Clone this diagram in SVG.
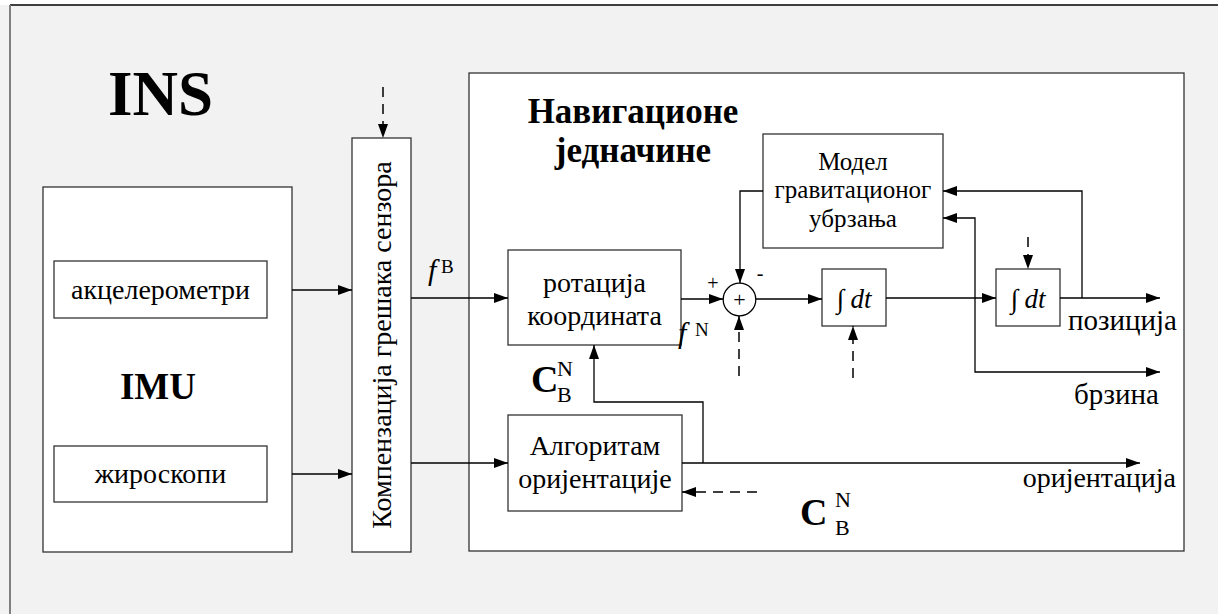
<svg xmlns="http://www.w3.org/2000/svg" width="1218" height="614" viewBox="0 0 1218 614">
<defs>
<style>
.t{font-family:"Liberation Serif","Times New Roman",serif;fill:#000}
.b{font-weight:bold}
.i{font-style:italic}
.box{fill:#fff;stroke:#333;stroke-width:1.3}
.ln{fill:none;stroke:#000;stroke-width:1.3}
.ds{fill:none;stroke:#000;stroke-width:1.5;stroke-dasharray:10 7}
</style>
<marker id="ar" viewBox="0 0 14 10" refX="14" refY="5" markerWidth="14" markerHeight="10" markerUnits="userSpaceOnUse" orient="auto">
<path d="M0,0 L14,5 L0,10 Z" fill="#000"/>
</marker>
</defs>
<rect x="0" y="0" width="1218" height="614" fill="#f2f2f2"/>
<rect x="0" y="0" width="1218" height="5" fill="#fff"/>
<line x1="10" y1="5" x2="1218" y2="5" stroke="#000" stroke-width="1.5"/>
<line x1="10" y1="5" x2="10" y2="614" stroke="#808080" stroke-width="2"/>
<text class="t b" x="108" y="115" font-size="63">INS</text>

<g id="imu">
<rect class="box" x="43" y="187" width="249" height="365"/>
<text class="t b" x="158" y="399" font-size="37" text-anchor="middle">IMU</text>
</g>
<g id="akcel">
<rect class="box" x="54" y="261" width="213" height="57"/>
<text class="t" x="160.5" y="299" font-size="28" text-anchor="middle">акцелерометри</text>
</g>
<g id="ziro">
<rect class="box" x="54" y="446" width="213" height="56"/>
<text class="t" x="160.5" y="483" font-size="28" text-anchor="middle">жироскопи</text>
</g>
<g id="komp">
<rect class="box" x="352" y="138" width="59" height="414"/>
<text class="t" transform="translate(391,345) rotate(-90)" font-size="28" text-anchor="middle">Компензација грешака сензора</text>
</g>
<g id="nav">
<rect class="box" x="469" y="73" width="715" height="478"/>
<text class="t b" x="633" y="123" font-size="35" text-anchor="middle">Навигационе</text>
<text class="t b" x="633" y="162" font-size="35" text-anchor="middle">једначине</text>
</g>
<g id="rot">
<rect class="box" x="508" y="250" width="173" height="95"/>
<text class="t" x="594.5" y="292" font-size="28" text-anchor="middle">ротација</text>
<text class="t" x="594.5" y="325" font-size="28" text-anchor="middle">координата</text>
</g>
<g id="alg">
<rect class="box" x="508" y="415" width="174" height="96"/>
<text class="t" x="595" y="455" font-size="28" text-anchor="middle">Алгоритам</text>
<text class="t" x="595" y="488" font-size="28" text-anchor="middle">оријентације</text>
</g>
<g id="model">
<rect class="box" x="763" y="134" width="180" height="114"/>
<text class="t" x="853" y="170" font-size="25" text-anchor="middle">Модел</text>
<text class="t" x="853" y="198" font-size="25" text-anchor="middle">гравитационог</text>
<text class="t" x="853" y="227" font-size="25" text-anchor="middle">убрзања</text>
</g>
<g id="sum">
<circle cx="739.5" cy="299.5" r="16.3" fill="#fff" stroke="#000" stroke-width="1.3"/>
<text class="t" x="739.5" y="307" font-size="22" text-anchor="middle">+</text>
<text class="t" x="713" y="290" font-size="20" text-anchor="middle">+</text>
<text class="t" x="760" y="280" font-size="20" text-anchor="middle">-</text>
</g>
<g id="int1">
<rect class="box" x="822" y="269" width="64" height="57"/>
<text class="t i" x="854" y="308" font-size="27" text-anchor="middle">∫ dt</text>
</g>
<g id="int2">
<rect class="box" x="996" y="269" width="64" height="57"/>
<text class="t i" x="1028" y="308" font-size="27" text-anchor="middle">∫ dt</text>
</g>

<g id="labels">
<text class="t i" x="428" y="280" font-size="30">f</text>
<text class="t" x="441" y="273" font-size="19">B</text>
<text class="t i" x="678" y="343" font-size="30">f</text>
<text class="t" x="695" y="336" font-size="19">N</text>
<text class="t b" x="531" y="392" font-size="38">C</text>
<text class="t" x="557" y="376" font-size="22">N</text>
<text class="t" x="557" y="402" font-size="22">B</text>
<text class="t b" x="800" y="525" font-size="38">C</text>
<text class="t" x="835" y="507" font-size="22">N</text>
<text class="t" x="835" y="535" font-size="22">B</text>
<text class="t" x="1068" y="330" font-size="29">позиција</text>
<text class="t" x="1074" y="404" font-size="29">брзина</text>
<text class="t" x="1176" y="487" font-size="28" text-anchor="end">оријентација</text>
</g>

<g id="connectors">
<line class="ln" x1="292" y1="290" x2="352" y2="290" marker-end="url(#ar)"/>
<line class="ln" x1="292" y1="474" x2="352" y2="474" marker-end="url(#ar)"/>
<line class="ds" x1="383" y1="87" x2="383" y2="138" marker-end="url(#ar)"/>
<line class="ln" x1="411" y1="298" x2="508" y2="298" marker-end="url(#ar)"/>
<line class="ln" x1="411" y1="463" x2="508" y2="463" marker-end="url(#ar)"/>
<line class="ln" x1="681" y1="299" x2="723" y2="299" marker-end="url(#ar)"/>
<polyline class="ln" points="763,191 740,191 740,283" marker-end="url(#ar)"/>
<line class="ds" x1="739" y1="376" x2="739" y2="316" marker-end="url(#ar)"/>
<line class="ln" x1="756" y1="299" x2="822" y2="299" marker-end="url(#ar)"/>
<line class="ds" x1="853" y1="378" x2="853" y2="326" marker-end="url(#ar)"/>
<line class="ln" x1="886" y1="298" x2="996" y2="298" marker-end="url(#ar)"/>
<line class="ds" x1="1028" y1="237" x2="1028" y2="269" marker-end="url(#ar)"/>
<line class="ln" x1="1060" y1="298" x2="1160" y2="298" marker-end="url(#ar)"/>
<polyline class="ln" points="1082,298 1082,191 943,191" marker-end="url(#ar)"/>
<polyline class="ln" points="975,298 975,372 1160,372" marker-end="url(#ar)"/>
<polyline class="ln" points="975,298 975,218 943,218" marker-end="url(#ar)"/>
<line class="ln" x1="682" y1="463" x2="1140" y2="463" marker-end="url(#ar)"/>
<polyline class="ln" points="703,463 703,402 594,402 594,345" marker-end="url(#ar)"/>
<line class="ds" x1="757" y1="492" x2="682" y2="492" marker-end="url(#ar)"/>
</g>
</svg>
